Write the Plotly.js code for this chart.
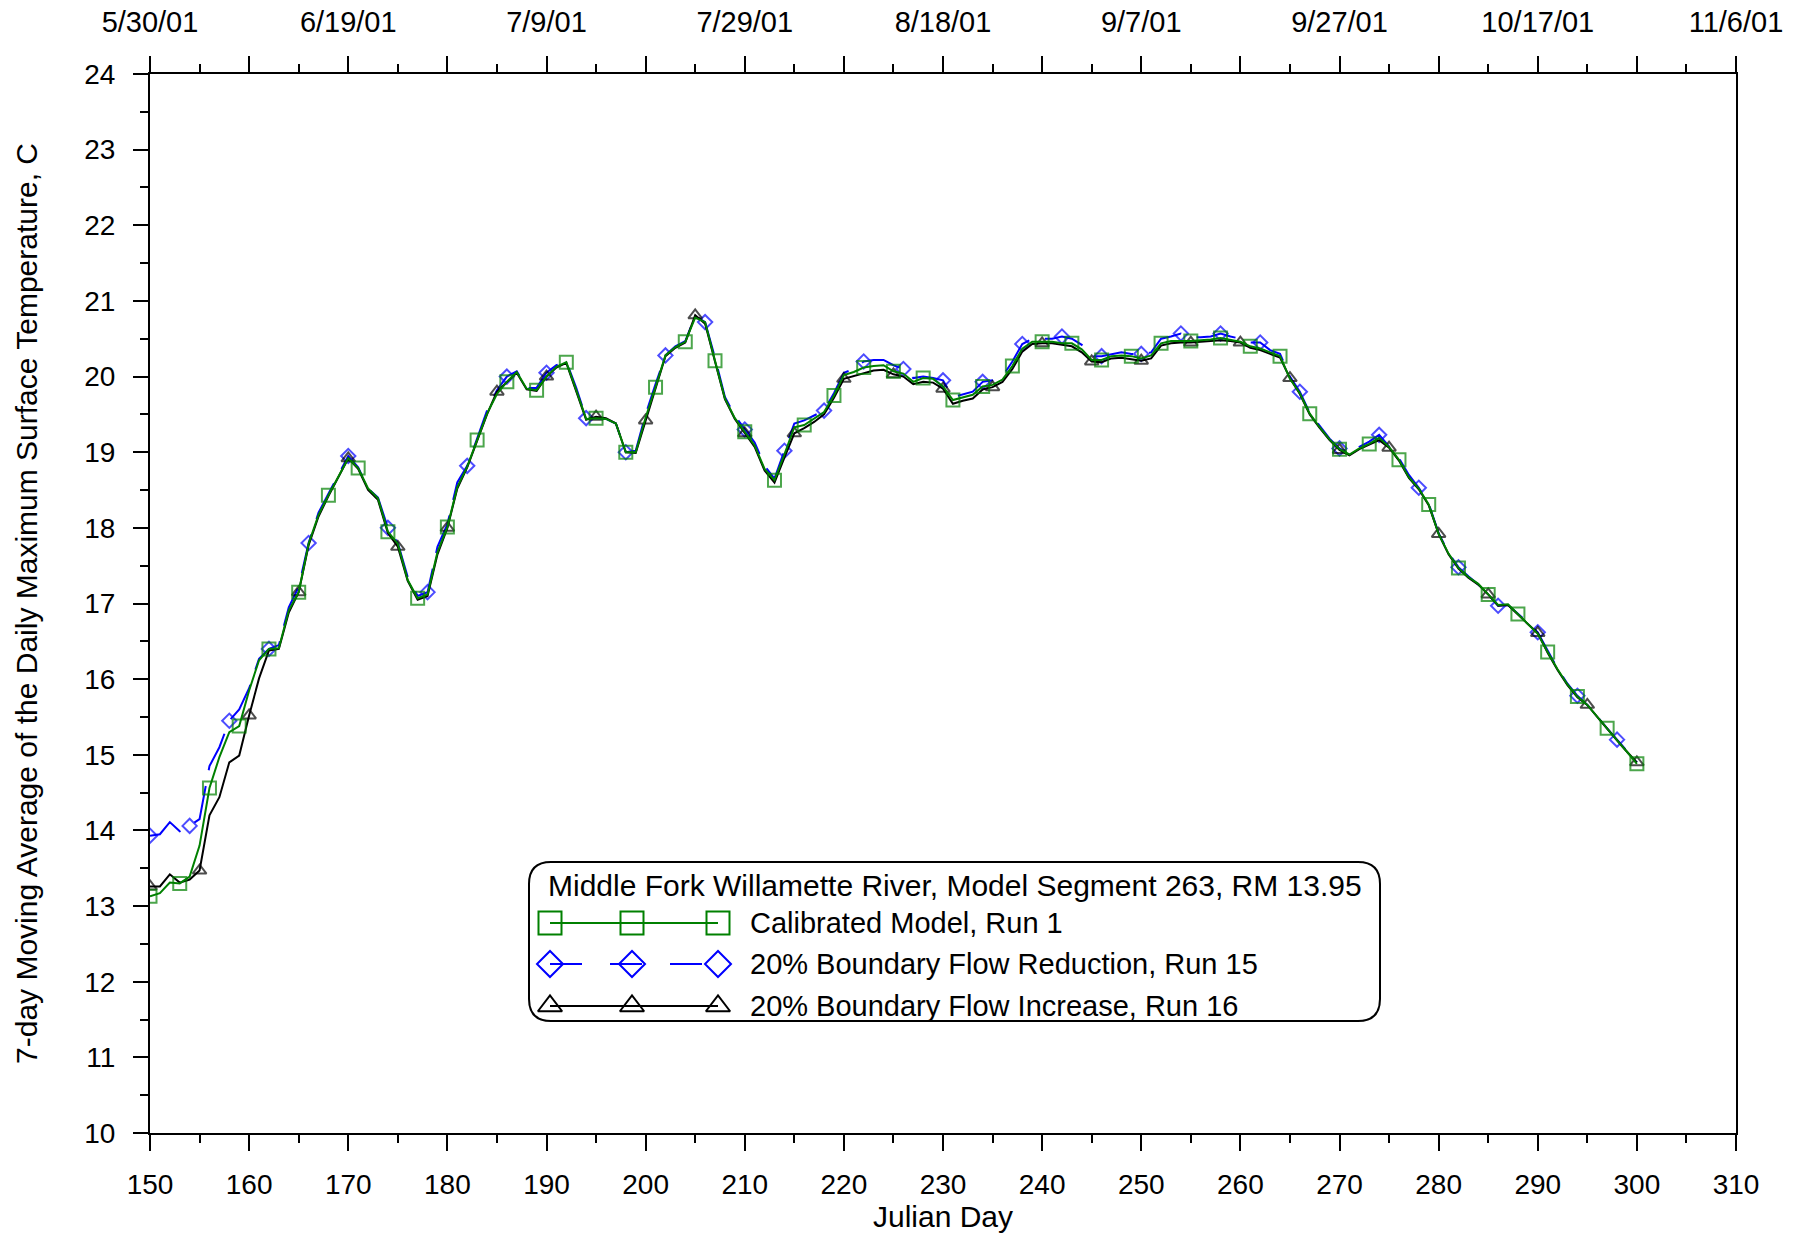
<!DOCTYPE html>
<html><head><meta charset="utf-8">
<script src="https://cdn.plot.ly/plotly-3.0.1.min.js"></script>
<style>html,body{margin:0;padding:0;background:#fff}#chart{width:1803px;height:1236px}</style>
</head><body><div id="chart"></div>
<script>
const julianDay = [150,151,152,153,154,155,156,157,158,159,160,161,162,163,164,165,166,167,168,169,170,171,172,173,174,175,176,177,178,179,180,181,182,183,184,185,186,187,188,189,190,191,192,193,194,195,196,197,198,199,200,201,202,203,204,205,206,207,208,209,210,211,212,213,214,215,216,217,218,219,220,221,222,223,224,225,226,227,228,229,230,231,232,233,234,235,236,237,238,239,240,241,242,243,244,245,246,247,248,249,250,251,252,253,254,255,256,257,258,259,260,261,262,263,264,265,266,267,268,269,270,271,272,273,274,275,276,277,278,279,280,281,282,283,284,285,286,287,288,289,290,291,292,293,294,295,296,297,298,299,300];

const calibratedRun1 = [13.13,13.17,13.31,13.30,13.39,13.80,14.56,14.97,15.30,15.38,15.85,16.25,16.40,16.41,16.91,17.15,17.79,18.17,18.43,18.67,18.92,18.79,18.52,18.39,17.95,17.79,17.31,17.07,17.12,17.68,18.01,18.54,18.81,19.16,19.51,19.77,19.93,20.06,19.84,19.82,20.00,20.13,20.19,19.82,19.44,19.45,19.44,19.38,19.00,19.00,19.46,19.86,20.28,20.39,20.46,20.78,20.72,20.21,19.71,19.45,19.27,19.09,18.78,18.63,18.97,19.33,19.36,19.44,19.53,19.75,20.02,20.06,20.12,20.14,20.15,20.07,20.04,19.93,19.98,19.97,19.87,19.69,19.73,19.76,19.87,19.89,19.96,20.14,20.37,20.46,20.46,20.46,20.44,20.44,20.36,20.22,20.22,20.27,20.28,20.27,20.24,20.28,20.44,20.47,20.47,20.47,20.48,20.49,20.51,20.49,20.46,20.40,20.37,20.32,20.27,19.97,19.78,19.51,19.33,19.17,19.04,18.97,19.05,19.11,19.19,19.07,18.90,18.67,18.52,18.31,17.92,17.66,17.47,17.35,17.26,17.12,16.98,16.99,16.86,16.74,16.60,16.36,16.13,15.93,15.77,15.66,15.50,15.35,15.19,15.04,14.88];

const flowReductionRun15 = [13.93,13.95,14.11,13.99,14.06,14.15,14.85,15.10,15.45,15.60,15.88,16.27,16.40,16.45,16.95,17.22,17.80,18.20,18.45,18.70,18.95,18.80,18.52,18.40,18.00,17.80,17.35,17.10,17.15,17.75,18.05,18.60,18.82,19.18,19.55,19.82,20.00,20.07,19.85,19.85,20.05,20.15,20.20,19.85,19.45,19.45,19.44,19.38,19.00,19.02,19.50,19.90,20.28,20.40,20.47,20.80,20.72,20.25,19.73,19.48,19.30,19.13,18.82,18.65,19.02,19.38,19.42,19.48,19.55,19.78,20.05,20.10,20.20,20.22,20.22,20.15,20.10,19.98,20.00,19.98,19.95,19.73,19.77,19.80,19.93,19.95,20.00,20.20,20.43,20.50,20.50,20.50,20.53,20.50,20.42,20.27,20.27,20.30,20.32,20.30,20.30,20.32,20.50,20.53,20.57,20.52,20.52,20.53,20.57,20.53,20.50,20.45,20.45,20.35,20.30,20.00,19.80,19.52,19.35,19.18,19.05,18.98,19.07,19.14,19.23,19.08,18.92,18.70,18.53,18.32,17.93,17.67,17.48,17.36,17.25,17.12,16.97,16.98,16.87,16.75,16.62,16.37,16.14,15.94,15.78,15.66,15.50,15.35,15.20,15.05,14.90];

const flowIncreaseRun16 = [13.26,13.26,13.42,13.31,13.35,13.47,14.20,14.44,14.90,14.99,15.52,16.01,16.38,16.40,16.88,17.15,17.77,18.15,18.42,18.66,18.92,18.78,18.50,18.37,17.93,17.75,17.30,17.05,17.10,17.65,18.00,18.52,18.80,19.15,19.50,19.80,19.93,20.05,19.83,19.81,20.00,20.12,20.18,19.80,19.43,19.47,19.45,19.38,19.00,18.99,19.42,19.84,20.27,20.38,20.45,20.81,20.70,20.20,19.70,19.44,19.25,19.07,18.76,18.60,18.93,19.25,19.32,19.40,19.50,19.72,19.97,20.01,20.05,20.08,20.09,20.03,20.00,19.90,19.93,19.92,19.84,19.64,19.68,19.71,19.83,19.86,19.93,20.10,20.33,20.43,20.44,20.44,20.42,20.40,20.32,20.20,20.19,20.24,20.25,20.23,20.21,20.24,20.41,20.44,20.45,20.45,20.46,20.47,20.48,20.47,20.45,20.38,20.35,20.30,20.25,19.98,19.77,19.50,19.32,19.16,19.03,18.96,19.04,19.10,19.16,19.06,18.89,18.66,18.51,18.30,17.92,17.65,17.46,17.34,17.25,17.12,16.97,16.98,16.85,16.73,16.61,16.35,16.12,15.92,15.76,15.66,15.50,15.34,15.19,15.04,14.90];

const dateTickDays = [150,170,190,210,230,250,270,290,310];
const dateTickLabels = ['5/30/01','6/19/01','7/9/01','7/29/01','8/18/01','9/7/01','9/27/01','10/17/01','11/6/01'];
const legendTitle = 'Middle Fork Willamette River, Model Segment 263, RM 13.95';
const seriesNames = ['Calibrated Model, Run 1','20% Boundary Flow Reduction, Run 15','20% Boundary Flow Increase, Run 16'];
const xTitle = 'Julian Day';
const yTitle = '7-day Moving Average of the Daily Maximum Surface Temperature, C';

const FONT = '"Liberation Sans", Arial, sans-serif';
const GREEN = '#008000', BLUE = '#0000ff', BLACK = '#000000';

// marker every n-th day (style only)
function sizes(step, s) { return julianDay.map((d, i) => (i % step === 0 ? s : 0)); }

const traces = [];
traces.push({
  x: julianDay, y: flowReductionRun15, type: 'scatter', mode: 'lines+markers', name: seriesNames[1],
  line: {color: BLUE, width: 2, dash: '40px,16px'},
  marker: {symbol: 'diamond-open', size: sizes(4, 11), color: BLUE, line: {width: 2, color: BLUE}},
  showlegend: false
});
traces.push({
  x: julianDay, y: flowIncreaseRun16, type: 'scatter', mode: 'lines+markers', name: seriesNames[2],
  line: {color: BLACK, width: 2},
  marker: {symbol: 'triangle-up-open', size: sizes(5, 12), color: BLACK, line: {width: 2, color: BLACK}},
  showlegend: false
});
traces.push({
  x: julianDay, y: calibratedRun1, type: 'scatter', mode: 'lines+markers', name: seriesNames[0],
  line: {color: GREEN, width: 2},
  marker: {symbol: 'square-open', size: sizes(3, 13), color: GREEN, line: {width: 2, color: GREEN}},
  showlegend: false
});
// dummy trace for the top date axis
traces.push({x: dateTickDays, y: dateTickDays.map(() => null), xaxis: 'x2', yaxis: 'y', showlegend: false, hoverinfo: 'skip', mode: 'lines'});

// custom legend drawn in a pixel-space overlay axis
const L = 150, R = 67, T = 74, B = 103, W = 1803, H = 1236;
const legX = [550, 632, 718];
const legRows = [923, 964, 1006];
const legStyles = [
  {color: GREEN, symbol: 'square-open', size: 23, dash: 'solid'},
  {color: BLUE, symbol: 'diamond-open', size: 20, dash: '32px,28px'},
  {color: BLACK, symbol: 'triangle-up-open', size: 21, dash: 'solid'}
];
legStyles.forEach((st, k) => {
  traces.push({
    x: legX, y: legX.map(() => legRows[k]), xaxis: 'x3', yaxis: 'y3', mode: 'lines+markers',
    line: {color: st.color, width: 2, dash: st.dash},
    marker: {symbol: st.symbol, size: st.size, color: st.color, line: {width: 2, color: st.color}},
    showlegend: false, hoverinfo: 'skip'
  });
});

const bx0 = 529, bx1 = 1380, by0 = 862, by1 = 1021, rr = 22;
const boxPath = `M ${bx0+rr},${by0} L ${bx1-rr},${by0} Q ${bx1},${by0} ${bx1},${by0+rr} L ${bx1},${by1-rr} Q ${bx1},${by1} ${bx1-rr},${by1} L ${bx0+rr},${by1} Q ${bx0},${by1} ${bx0},${by1-rr} L ${bx0},${by0+rr} Q ${bx0},${by0} ${bx0+rr},${by0} Z`;

const annotations = [
  {xref: 'x3', yref: 'y3', x: (bx0+bx1)/2, y: 885, text: legendTitle, showarrow: false, xanchor: 'center', yanchor: 'middle', font: {family: FONT, size: 30, color: '#000'}}
];
seriesNames.forEach((n, k) => annotations.push({
  xref: 'x3', yref: 'y3', x: 748, y: legRows[k], text: n, showarrow: false, xanchor: 'left', yanchor: 'middle', font: {family: FONT, size: 29, color: '#000'}
}));

const topTickVals = [], topTickText = [];
for (let d = 150; d <= 310; d += 10) {
  topTickVals.push(d);
  const idx = dateTickDays.indexOf(d);
  topTickText.push(idx >= 0 ? dateTickLabels[idx] : '');
}

const layout = {
  width: W, height: H,
  margin: {l: L, r: R, t: T, b: B},
  paper_bgcolor: '#fff', plot_bgcolor: '#fff',
  font: {family: FONT, color: '#000'},
  showlegend: false,
  xaxis: {
    range: [150, 310], tickmode: 'linear', tick0: 150, dtick: 10,
    ticks: 'outside', ticklen: 16, tickwidth: 2, tickcolor: '#000',
    showline: true, linewidth: 2, linecolor: '#000', showgrid: false, zeroline: false,
    minor: {dtick: 5, tick0: 150, ticks: 'outside', ticklen: 8, tickwidth: 2, tickcolor: '#000', showgrid: false},
    tickfont: {family: FONT, size: 28, color: '#000'}, ticklabelstandoff: 9,
    title: {text: xTitle, font: {family: FONT, size: 30, color: '#000'}, standoff: 3}
  },
  xaxis2: {
    overlaying: 'x', side: 'top', anchor: 'y', range: [150, 310],
    tickmode: 'array', tickvals: topTickVals, ticktext: topTickText,
    ticks: 'outside', ticklen: 16, tickwidth: 2, tickcolor: '#000',
    showline: true, linewidth: 2, linecolor: '#000', showgrid: false, zeroline: false,
    minor: {tickmode: 'linear', dtick: 5, tick0: 150, ticks: 'outside', ticklen: 8, tickwidth: 2, tickcolor: '#000', showgrid: false},
    tickfont: {family: FONT, size: 29, color: '#000'}, ticklabelstandoff: 12
  },
  yaxis: {
    range: [10, 24], tickmode: 'linear', tick0: 10, dtick: 1,
    ticks: 'outside', ticklen: 15, tickwidth: 2, tickcolor: '#000',
    showline: true, mirror: true, linewidth: 2, linecolor: '#000', showgrid: false, zeroline: false,
    minor: {dtick: 0.5, tick0: 10, ticks: 'outside', ticklen: 8, tickwidth: 2, tickcolor: '#000', showgrid: false},
    tickfont: {family: FONT, size: 28, color: '#000'}, ticklabelstandoff: 12,
    title: {text: yTitle, font: {family: FONT, size: 30, color: '#000'}, standoff: 38}
  },
  xaxis3: {overlaying: 'x', anchor: 'y3', range: [L, W - R], visible: false, fixedrange: true},
  yaxis3: {overlaying: 'y', anchor: 'x3', range: [H - B, T], visible: false, fixedrange: true},
  shapes: [
    {type: 'path', xref: 'x3', yref: 'y3', path: boxPath, line: {color: '#000', width: 2}, fillcolor: 'rgba(255,255,255,1)', layer: 'below'}
  ],
  annotations: annotations
};

Plotly.newPlot('chart', traces, layout, {displayModeBar: false, staticPlot: true});
</script>
</body></html>
